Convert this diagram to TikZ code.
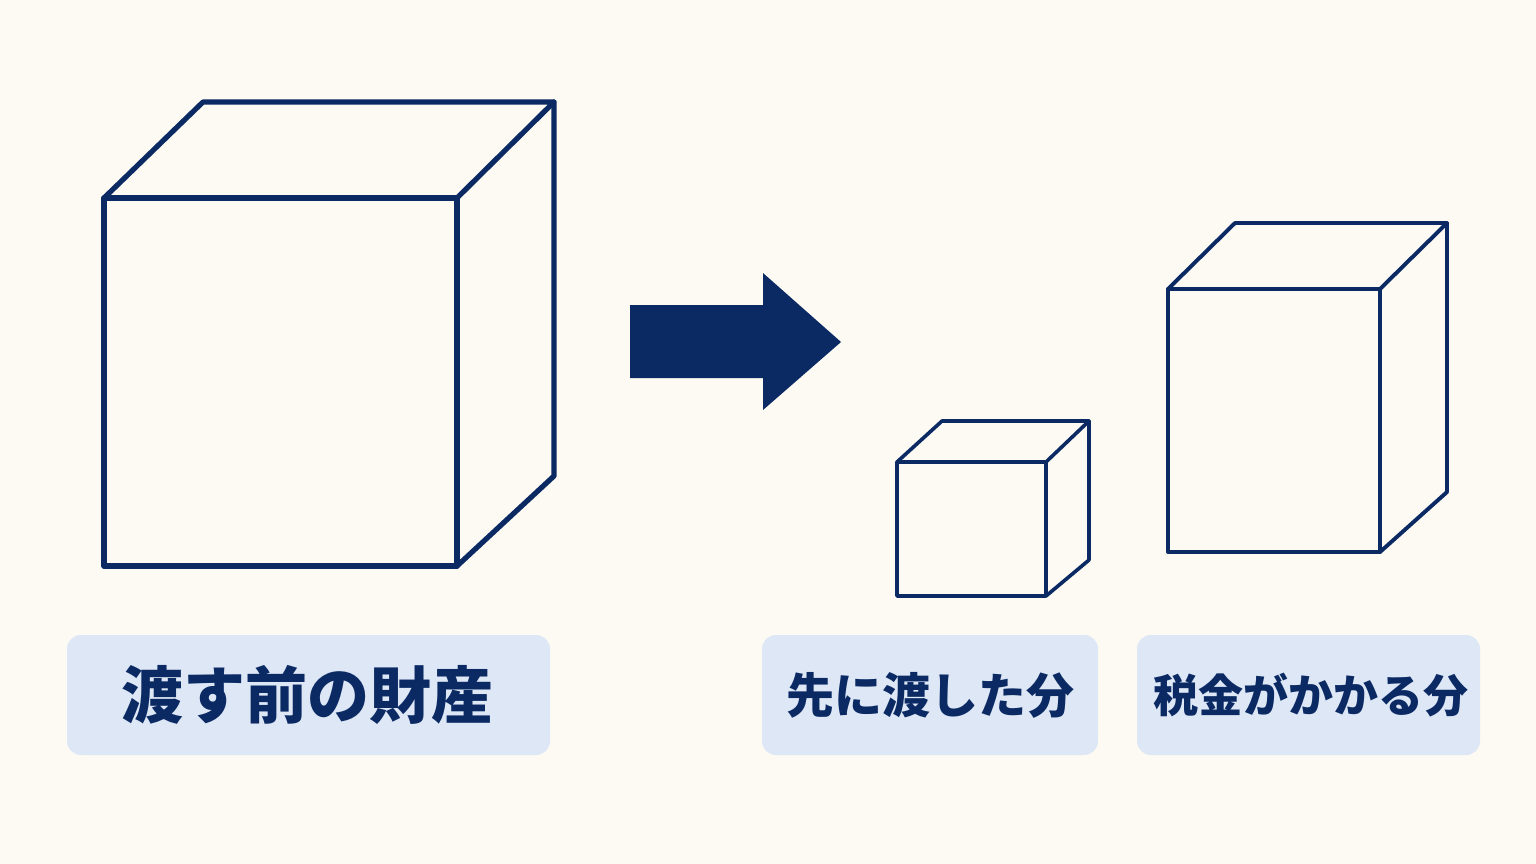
\documentclass[tikz,border=0pt]{standalone}
\usepackage{fontspec}
\newfontfamily\jp{Noto Sans CJK JP}
\definecolor{navy}{HTML}{0B2A63}
\definecolor{lbl}{HTML}{DDE7F6}
\definecolor{bg}{HTML}{FCFAF3}
\begin{document}
\begin{tikzpicture}[x=1pt,y=-1pt,
  cubeline/.style={draw=navy,line width=#1,line join=round,line cap=round},
  cubeline/.default=5pt,
  labelbox/.style={fill=lbl,rounded corners=14pt,draw=none},
  labeltext/.style={text=navy,font=\jp\bfseries\fontsize{#1}{#1}\selectfont,inner sep=0pt},
]
\fill[bg] (0,0) rectangle (1536,864);
\useasboundingbox (0,0) rectangle (1536,864);

% big cube
\coordinate (a1) at (104,198); \coordinate (a2) at (457,198);
\coordinate (a3) at (457,566); \coordinate (a4) at (104,566);
\coordinate (a5) at (203,102); \coordinate (a6) at (554,102);
\coordinate (a7) at (554,476);
\draw[cubeline=5.2pt] (a1) -- (a2) -- (a3) -- (a4) -- cycle;
\draw[cubeline=5.2pt] (a1) -- (a5) -- (a6) -- (a2);
\draw[cubeline=5.2pt] (a6) -- (a7) -- (a3);

% arrow
\fill[navy] (630,305) -- (763,305) -- (763,273) -- (841,342) -- (763,410) -- (763,378) -- (630,378) -- cycle;

% small cube
\coordinate (b1) at (897,462); \coordinate (b2) at (1046,462);
\coordinate (b3) at (1046,596); \coordinate (b4) at (897,596);
\coordinate (b5) at (942,421); \coordinate (b6) at (1089,421);
\coordinate (b7) at (1089,560);
\draw[cubeline=3.6pt] (b1) -- (b2) -- (b3) -- (b4) -- cycle;
\draw[cubeline=3.6pt] (b1) -- (b5) -- (b6) -- (b2);
\draw[cubeline=3.6pt] (b6) -- (b7) -- (b3);

% medium cube
\coordinate (c1) at (1168,289); \coordinate (c2) at (1380,289);
\coordinate (c3) at (1380,552); \coordinate (c4) at (1168,552);
\coordinate (c5) at (1235,223); \coordinate (c6) at (1447,223);
\coordinate (c7) at (1447,492);
\draw[cubeline=3.9pt] (c1) -- (c2) -- (c3) -- (c4) -- cycle;
\draw[cubeline=3.9pt] (c1) -- (c5) -- (c6) -- (c2);
\draw[cubeline=3.9pt] (c6) -- (c7) -- (c3);

% labels
\fill[labelbox] (67,635) rectangle (550,755);
\node[labeltext=62pt] (l1) at (307,695) {渡す前の財産};
\fill[labelbox] (762,635) rectangle (1098,755);
\node[labeltext=48pt] (l2) at (930,695) {先に渡した分};
\fill[labelbox] (1137,635) rectangle (1480,755);
\node[labeltext=45pt] (l3) at (1311,695) {税金がかかる分};
\end{tikzpicture}
\end{document}
